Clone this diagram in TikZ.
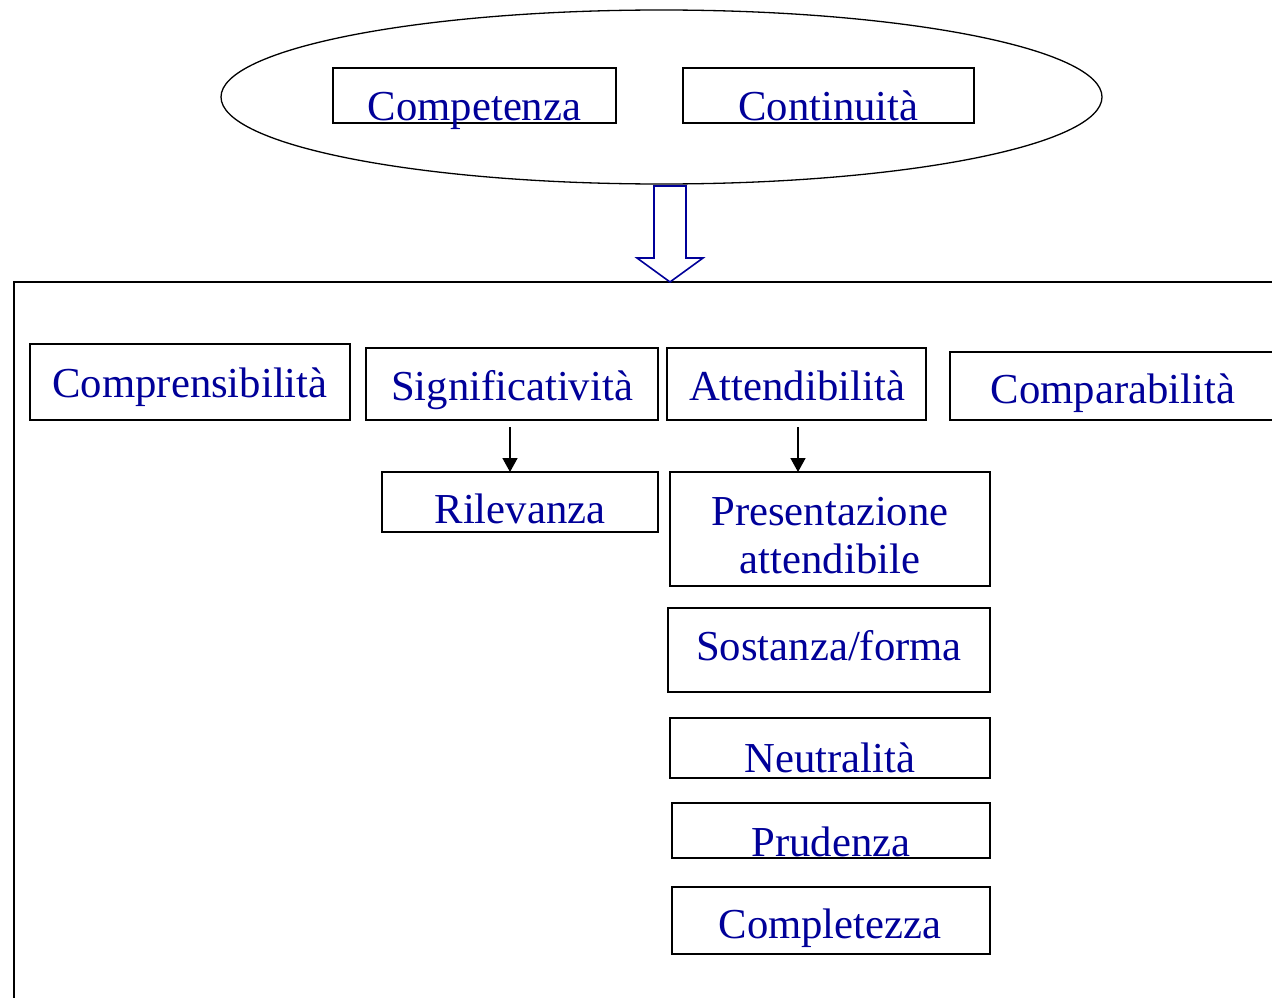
\documentclass[tikz,border=0pt]{standalone}
\usepackage{fontspec}
\setmainfont{Liberation Serif}
\usetikzlibrary{shapes.geometric,arrows.meta}
\definecolor{txtblue}{HTML}{000099}
\tikzset{
  box/.style={draw=black, line width=1.6pt, fill=white, rectangle, inner sep=0pt, outer sep=0pt},
  lbl/.style={text=txtblue, font=\fontsize{42.7}{48}\selectfont, anchor=base, inner sep=0pt, align=center},
  conn/.style={draw=black, line width=1.6pt, -{Triangle[length=14pt,width=15pt]}},
  blockarrow/.style={draw=txtblue, line width=1.6pt, fill=white, line join=miter}
}
\begin{document}
\begin{tikzpicture}[x=1pt,y=-1pt]
\clip (0,0) rectangle (1272,998);
\fill[white] (0,0) rectangle (1272,998);
% top ellipse
\node[draw=black, line width=1.3pt, ellipse, minimum width=881pt, minimum height=174pt, inner sep=0pt] (ell) at (661.5,97) {};
\node[box, minimum width=283pt, minimum height=55pt] (bcompet) at (474.5,95.5) {};
\node[box, minimum width=291pt, minimum height=55pt] (bcontin) at (828.5,95.5) {};
\node[lbl] (tcompet) at (474.5,120) {Competenza};
\node[lbl] (tcontin) at (828.5,120) {Continuità};
% block arrow
\coordinate (a1) at (654,186);
\coordinate (a2) at (686,186);
\coordinate (a3) at (686,258);
\coordinate (a4) at (703,258);
\coordinate (a5) at (670,282);
\coordinate (a6) at (637,258);
\coordinate (a7) at (654,258);
% big frame
\draw[line width=1.6pt] (1300,282) -- (14,282) -- (14,1020);
\draw[blockarrow] (a1) -- (a2) -- (a3) -- (a4) -- (a5) -- (a6) -- (a7) -- cycle;
% first row
\node[box, minimum width=320pt, minimum height=76pt] (bcompr) at (190,382) {};
\node[box, minimum width=292pt, minimum height=72pt] (bsig) at (512,384) {};
\node[box, minimum width=259pt, minimum height=72pt] (batt) at (796.5,384) {};
\node[box, minimum width=350pt, minimum height=68pt] (bcompar) at (1125,386) {};
\node[lbl] (tcompr) at (190,397) {Comprensibilità};
\node[lbl] (tsig) at (512,400) {Significatività};
\node[lbl] (tatt) at (797,400) {Attendibilità};
\node[lbl] (tcompar) at (1113,403) {Comparabilità};
% second level
\node[box, minimum width=276pt, minimum height=60pt] (bril) at (520,502) {};
\node[box, minimum width=320pt, minimum height=114pt] (bpres) at (830,529) {};
\node[box, minimum width=322pt, minimum height=84pt] (bsost) at (829,650) {};
\node[box, minimum width=320pt, minimum height=60pt] (bneut) at (830,748) {};
\node[box, minimum width=318pt, minimum height=55pt] (bprud) at (831,830.5) {};
\node[box, minimum width=318pt, minimum height=67pt] (bcompl) at (831,920.5) {};
\node[lbl] (tril) at (520,523) {Rilevanza};
\node[lbl] (tpres1) at (830,525) {Presentazione};
\node[lbl] (tpres2) at (830,573) {attendibile};
\node[lbl] (tsost) at (829,660) {Sostanza/forma};
\node[lbl] (tneut) at (830,772) {Neutralità};
\node[lbl] (tprud) at (831,856) {Prudenza};
\node[lbl] (tcompl) at (830,938) {Completezza};
% connectors
\draw[conn] (bsig.south -| 510,0) ++(0,7) -- (bril.north -| 510,0);
\draw[conn] (batt.south -| 798,0) ++(0,7) -- (bpres.north -| 798,0);
\end{tikzpicture}
\end{document}
